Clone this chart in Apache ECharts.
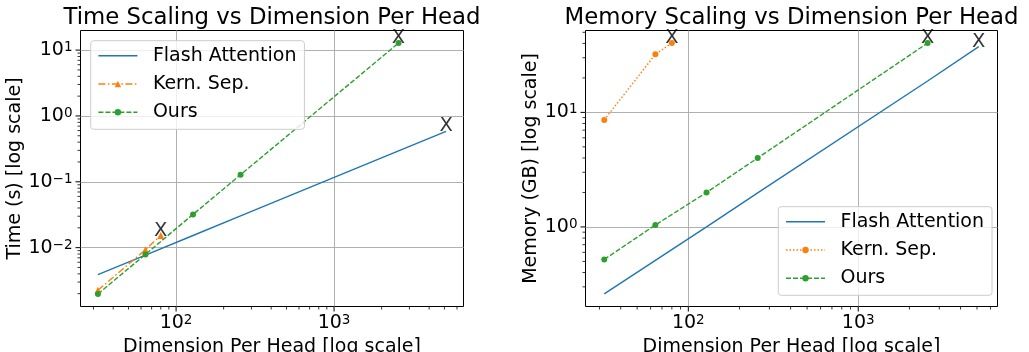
<!DOCTYPE html>
<html><head><meta charset="utf-8">
<script src="https://cdn.jsdelivr.net/npm/echarts@6/dist/echarts.min.js"></script>
<style>html,body{margin:0;padding:0;background:#fff}#c{width:1029px;height:352px}</style>
</head><body><div id="c"></div>
<script>
// ---- data ----
const flashDims = [32, 64, 128, 256, 2560, 5120];
const flashTime = [0.0039, 0.0077, 0.0153, 0.0303, 0.294, 0.585];
const flashMem  = [0.26, 0.51, 1.0, 1.98, 18.8, 37.5];
const kernDims  = [32, 64, 80];
const kernTime  = [0.00225, 0.0093, 0.0153];
const kernMem   = [8.6, 32.1, 40.3];
const oursDims  = [32, 64, 128, 256, 2560];
const oursTime  = [0.00198, 0.0079, 0.032, 0.128, 12.8];
const oursMem   = [0.52, 1.04, 2.0, 4.0, 40.3];
const titles = ['Time Scaling vs Dimension Per Head', 'Memory Scaling vs Dimension Per Head'];
const xName = 'Dimension Per Head [log scale]';
const yNames = ['Time (s) [log scale]', 'Memory (GB) [log scale]'];
const seriesNames = ['Flash Attention', 'Kern. Sep.', 'Ours'];
const endLabel = 'X';

const C = {blue:'#1f77b4', orange:'#ff7f0e', green:'#2ca02c'};
const FONT = 'DejaVu Sans';
const LW = 1.4;
const MEM = '#mem'; // internal suffix so each legend finds its own series; stripped for display
const grids = [
  {left: 80.5, top: 30.5, width: 383, height: 276},
  {left: 585.5, top: 30.5, width: 412, height: 276}
];

function zip(xs, ys){ return xs.map((x,i)=>[x, ys[i]]); }
function logRange(vals){
  const lo = Math.log10(Math.min(...vals)), hi = Math.log10(Math.max(...vals));
  const m = (hi-lo)*0.05;
  return [Math.pow(10, lo-m), Math.pow(10, hi+m)];
}
function ticksIn(r){
  const major = [], minor = [];
  for (let k = Math.floor(Math.log10(r[0])); k <= Math.ceil(Math.log10(r[1])); k++){
    for (let m = 1; m <= 9; m++){
      const v = m*Math.pow(10,k);
      if (v >= r[0] && v <= r[1]) (m === 1 ? major : minor).push(v);
    }
  }
  return {major, minor};
}
const xRange = logRange(flashDims.concat(kernDims, oursDims));
const yRanges = [
  logRange(flashTime.concat(kernTime, oursTime)),
  logRange(flashMem.concat(kernMem, oursMem))
];
function fmt(v){
  const l = Math.log10(v), r = Math.round(l);
  if (Math.abs(l-r) > 1e-6) return '';
  return '10{s|' + String(r).replace('-', '\u2212') + '}';
}
const rich = {s:{fontSize:13.5, fontFamily:FONT, color:'#000', verticalAlign:'top', lineHeight:14}};

function tickSeries(gi, dir, vals, len, ref){
  return {
    type:'custom', xAxisIndex:gi, yAxisIndex:gi, silent:true, clip:false, z:5,
    data: vals.map(v => dir === 'x' ? [v, ref] : [ref, v]),
    encode:{x:0, y:1},
    renderItem: function(params, api){
      const cs = params.coordSys;
      const p = api.coord([api.value(0), api.value(1)]);
      const shape = dir === 'x'
        ? {x1:p[0], y1:cs.y+cs.height, x2:p[0], y2:cs.y+cs.height+len}
        : {x1:cs.x, y1:p[1], x2:cs.x-len, y2:p[1]};
      return {type:'line', shape: shape, style:{stroke:'#000', lineWidth: len > 4 ? 1 : 0.8}};
    }
  };
}

const xAxes = [], yAxes = [], series = [];
[0,1].forEach(gi => {
  xAxes.push({
    type:'log', logBase:10, gridIndex:gi, min:xRange[0], max:xRange[1],
    name:xName, nameLocation:'middle', nameGap:24,
    nameTextStyle:{fontSize:19, color:'#000', fontFamily:FONT},
    axisLine:{show:false}, axisTick:{show:false},
    axisLabel:{formatter:fmt, rich:rich, fontSize:19, color:'#000', fontFamily:FONT, margin:7, lineHeight:19},
    splitLine:{show:true, showMinLine:false, showMaxLine:false, lineStyle:{color:'#b0b0b0', width:1}}
  });
  yAxes.push({
    type:'log', logBase:10, gridIndex:gi, min:yRanges[gi][0], max:yRanges[gi][1],
    name:yNames[gi], nameLocation:'middle', nameGap: gi === 0 ? 56 : 44, nameRotate:90,
    nameTextStyle:{fontSize:19, color:'#000', fontFamily:FONT},
    axisLine:{show:false}, axisTick:{show:false},
    axisLabel:{formatter:fmt, rich:rich, fontSize:19, color:'#000', fontFamily:FONT, margin:8, lineHeight:19},
    splitLine:{show:true, showMinLine:false, showMaxLine:false, lineStyle:{color:'#b0b0b0', width:1}}
  });
  const xt = ticksIn(xRange), yt = ticksIn(yRanges[gi]);
  series.push(tickSeries(gi, 'x', xt.major, 5, yRanges[gi][0]));
  series.push(tickSeries(gi, 'x', xt.minor, 3, yRanges[gi][0]));
  series.push(tickSeries(gi, 'y', yt.major, 5, xRange[0]));
  series.push(tickSeries(gi, 'y', yt.minor, 3, xRange[0]));
});

function lineS(gi, name, data, color, type, symbol, size){
  return {
    type:'line', name:name, xAxisIndex:gi, yAxisIndex:gi, data:data,
    symbol: symbol || 'circle', symbolSize: symbol ? (size || 6) : 0, showSymbol: !!symbol,
    itemStyle:{color:color}, lineStyle:{color:color, width:LW, type:type},
    z:3, animation:false
  };
}
// left: time
series.push(lineS(0, seriesNames[0], zip(flashDims, flashTime), C.blue, 'solid'));
series.push(lineS(0, seriesNames[1], zip(kernDims, kernTime), C.orange, [7,2.5,1.5,2.5], 'triangle', 7));
series.push(lineS(0, seriesNames[2], zip(oursDims, oursTime), C.green, [5,2], 'circle', 6));
// right: memory
series.push(lineS(1, seriesNames[0] + MEM, zip(flashDims, flashMem), C.blue, 'solid'));
series.push(lineS(1, seriesNames[1] + MEM, zip(kernDims, kernMem), C.orange, [1.5,2], 'circle', 6));
series.push(lineS(1, seriesNames[2] + MEM, zip(oursDims, oursMem), C.green, [5,2], 'circle', 6));

// "X" end annotations
function last(xs, ys){ return [xs[xs.length-1], ys[ys.length-1]]; }
const ends = [
  [last(flashDims, flashTime), last(kernDims, kernTime), last(oursDims, oursTime)],
  [last(flashDims, flashMem), last(kernDims, kernMem), last(oursDims, oursMem)]
];
[0,1].forEach(gi => {
  series.push({
    type:'scatter', xAxisIndex:gi, yAxisIndex:gi, data:ends[gi], symbolSize:1,
    itemStyle:{color:'rgba(0,0,0,0)'}, silent:true, clip:false, z:6, animation:false,
    label:{show:true, formatter:endLabel, position:'inside', offset:[0,-5], fontSize:19.5,
           color:'#000', fontFamily:FONT, textBorderWidth:0}
  });
});

const legendBase = {
  orient:'vertical', selectedMode:false, padding:[5,8,7,7], itemGap:8.3, itemWidth:39, itemHeight:8,
  backgroundColor:'rgba(255,255,255,0.8)', borderColor:'#cccccc', borderWidth:1, borderRadius:3,
  lineStyle:{width:LW},
  formatter: function(n){ return n.replace(MEM, ''); },
  textStyle:{fontSize:19, color:'#000', fontFamily:FONT, lineHeight:20, padding:[0,0,0,10.5]}
};
const legends = [
  Object.assign({}, legendBase, {left:90.7, top:40.7, data:[
    {name:seriesNames[0], itemStyle:{opacity:0}}, {name:seriesNames[1]}, {name:seriesNames[2]}
  ]}),
  Object.assign({}, legendBase, {left:778.3, top:206.7, data:[
    {name:seriesNames[0] + MEM, itemStyle:{opacity:0}}, {name:seriesNames[1] + MEM}, {name:seriesNames[2] + MEM}
  ]})
];

const chart = echarts.init(document.getElementById('c'), null, {renderer:'canvas'});
chart.setOption({
  animation:false,
  textStyle:{fontFamily:FONT},
  grid: grids.map(g => Object.assign({show:true, borderColor:'#000', borderWidth:1, backgroundColor:'transparent', containLabel:false, outerBoundsMode:'none'}, g)),
  xAxis:xAxes, yAxis:yAxes, legend:legends, series:series,
  graphic: titles.map((t,i) => ({
    type:'text', x: grids[i].left + grids[i].width/2, y: 18, silent:true,
    style:{text:t, fontSize:22.8, fontFamily:FONT, fill:'#000', align:'center', verticalAlign:'middle'}
  }))
});
</script></body></html>
